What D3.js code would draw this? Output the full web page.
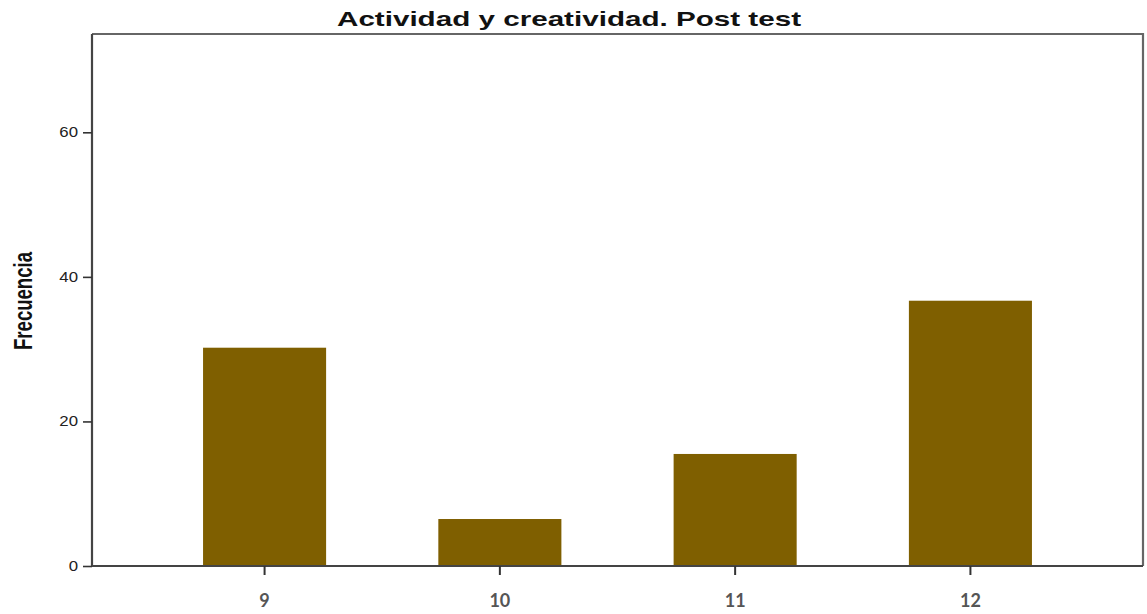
<!DOCTYPE html>
<html>
<head>
<meta charset="utf-8">
<script src="https://cdn.jsdelivr.net/npm/d3@7"></script>
<style>
  html, body { margin: 0; padding: 0; background: #fff; }
  svg { display: block; }
</style>
</head>
<body>
<svg id="chart" width="1147" height="614"></svg>
<script>
const categories = ["9", "10", "11", "12"];
const values = [30.2, 6.5, 15.5, 36.7];
const yTicks = [0, 20, 40, 60];
const title = "Actividad y creatividad. Post test";
const yLabel = "Frecuencia";

(function () {
const svg = d3.select("#chart");
const pL = 92, pR = 1143, pT = 34, pB = 566;

const x = d3.scaleBand().domain(categories).range([pL, pR])
  .paddingInner(0.477).paddingOuter(0.472);
const y = d3.scaleLinear().domain([0, 73.6]).range([pB, pT]);

// frame (top and right)
svg.append("path")
  .attr("d", `M${pL},${pT}H${pR}V${pB}`)
  .attr("fill", "none").attr("stroke", "#666").attr("stroke-width", 2.2);

// bars
svg.append("g").selectAll("rect").data(categories).join("rect")
  .attr("x", d => x(d))
  .attr("width", x.bandwidth())
  .attr("y", (d, i) => y(values[i]))
  .attr("height", (d, i) => y(0) - y(values[i]))
  .attr("fill", "#7f5f00");

// y axis
const yAxis = svg.append("g").attr("transform", `translate(${pL},0)`)
  .call(d3.axisLeft(y).tickValues(yTicks).tickSize(9).tickPadding(3).tickFormat(d3.format("d")));
yAxis.select(".domain").attr("d", `M0,${pT}V${pB}`).attr("stroke", "#444").attr("stroke-width", 2.2);
yAxis.selectAll(".tick line").attr("stroke", "#333").attr("stroke-width", 1.6);
yAxis.selectAll(".tick text")
  .attr("font-family", "Liberation Sans, Arial, sans-serif")
  .attr("font-size", 14).attr("fill", "#222")
  .attr("transform", "scale(1.2,1)")
  .attr("x", -14 / 1.2);

// x axis
const xAxis = svg.append("g").attr("transform", `translate(0,${pB})`)
  .call(d3.axisBottom(x).tickSize(9).tickPadding(19));
xAxis.select(".domain").attr("d", `M${pL},0H${pR}`).attr("stroke", "#444").attr("stroke-width", 2.2);
xAxis.selectAll(".tick line").attr("stroke", "#333").attr("stroke-width", 2);
xAxis.selectAll(".tick text")
  .attr("font-family", "Lato, Carlito, sans-serif")
  .attr("font-weight", "bold")
  .attr("font-size", 18).attr("fill", "#555");

// title
svg.append("text")
  .attr("x", 569).attr("y", 26)
  .attr("text-anchor", "middle")
  .attr("font-family", "Liberation Sans, Arial, sans-serif")
  .attr("font-weight", "bold").attr("font-size", 21)
  .attr("textLength", 464).attr("lengthAdjust", "spacingAndGlyphs")
  .attr("fill", "#111")
  .text(title);

// y label
svg.append("text")
  .attr("transform", "translate(32,301) rotate(-90)")
  .attr("text-anchor", "middle")
  .attr("font-family", "Liberation Sans Narrow, Arial Narrow, Liberation Sans, sans-serif")
  .attr("font-weight", "bold").attr("font-size", 25)
  .attr("textLength", 98).attr("lengthAdjust", "spacingAndGlyphs")
  .attr("fill", "#111")
  .text(yLabel);
})();
</script>
</body>
</html>
